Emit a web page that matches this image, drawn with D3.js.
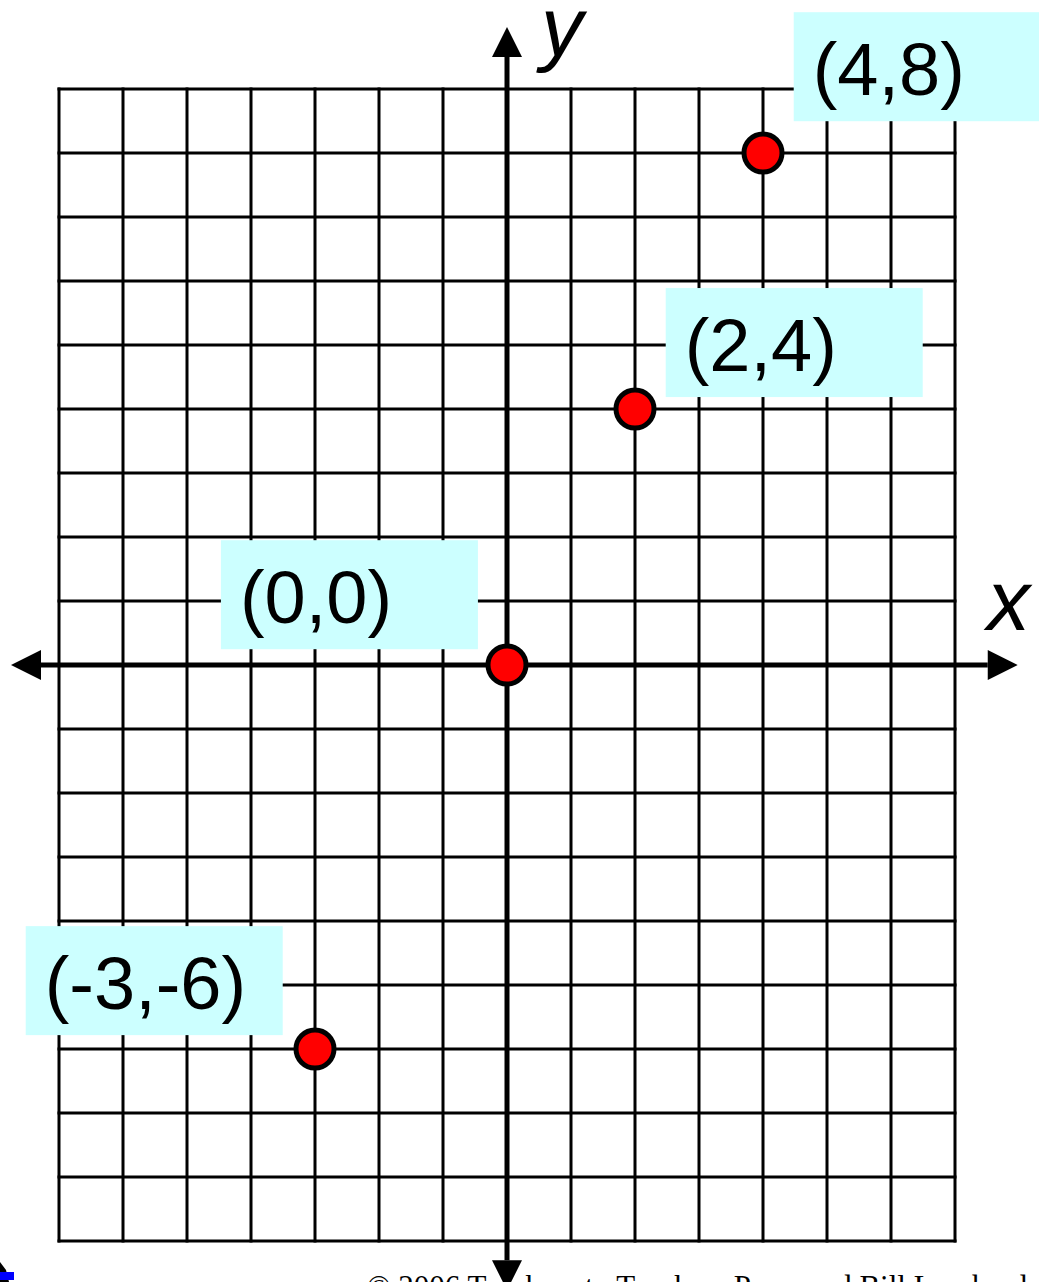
<!DOCTYPE html>
<html>
<head>
<meta charset="utf-8">
<script src="https://cdn.jsdelivr.net/npm/d3@7"></script>
<style>
  html, body { margin: 0; padding: 0; background: #fff; overflow: hidden; }
  svg { display: block; }
</style>
</head>
<body>
<svg id="chart" width="1039" height="1282"></svg>
<script>
// ---- data ----
const xTicks = [-7,-6,-5,-4,-3,-2,-1,0,1,2,3,4,5,6,7];
const yTicks = [-9,-8,-7,-6,-5,-4,-3,-2,-1,0,1,2,3,4,5,6,7,8,9];
const pointX = [0, 2, 4, -3];
const pointY = [0, 4, 8, -6];
const pointLabels = ["(0,0)", "(2,4)", "(4,8)", "(-3,-6)"];
// label box anchor (top-left corner) in data units
const labelBoxX = [-4.47, 2.48, 4.48, -7.52];
const labelBoxY = [1.95, 5.89, 10.20, -4.08];
const axisXExtent = [-7.75, 7.98];
const axisYExtent = [-9.77, 9.97];
const axisNames = ["x", "y"];
const copyright = "© 2006 Teachers to Teachers Press and Bill Lombard";

// ---- scales ----
const x = d3.scaleLinear().domain([-7, 7]).range([59, 955]);
const y = d3.scaleLinear().domain([-9, 9]).range([1241, 89]);

const svg = d3.select("#chart");

// grid
const grid = svg.append("g").attr("stroke", "#000").attr("stroke-width", 3).attr("stroke-linecap", "square");
grid.selectAll("line.v").data(xTicks).join("line")
  .attr("x1", d => x(d)).attr("x2", d => x(d))
  .attr("y1", y(9)).attr("y2", y(-9));
grid.selectAll("line.h").data(yTicks).join("line")
  .attr("y1", d => y(d)).attr("y2", d => y(d))
  .attr("x1", x(-7)).attr("x2", x(7));

// label boxes
const boxW = 257, boxH = 109;
const labels = svg.append("g");
pointLabels.forEach((t, i) => {
  const bx = x(labelBoxX[i]), by = y(labelBoxY[i]);
  labels.append("rect").attr("x", bx).attr("y", by).attr("width", boxW).attr("height", boxH)
    .attr("fill", "#ccffff");
  labels.append("text").attr("x", bx + 19).attr("y", by + 83)
    .attr("font-family", "Liberation Sans, Arial, sans-serif").attr("font-size", 74)
    .attr("fill", "#000").text(t);
});

// axes with arrows
const axes = svg.append("g");
const aw = 15, al = 30;
axes.append("line").attr("x1", x(axisXExtent[0]) + al).attr("x2", x(axisXExtent[1]) - al)
  .attr("y1", y(0)).attr("y2", y(0)).attr("stroke", "#000").attr("stroke-width", 5);
axes.append("line").attr("y1", y(axisYExtent[1]) + al).attr("y2", y(axisYExtent[0]) - al)
  .attr("x1", x(0)).attr("x2", x(0)).attr("stroke", "#000").attr("stroke-width", 5);
const arrow = (pts) => axes.append("path").attr("d", d3.line()(pts) + "Z").attr("fill", "#000");
const x0 = x(0), y0 = y(0);
const xl = x(axisXExtent[0]), xr = x(axisXExtent[1]);
const yt = y(axisYExtent[1]), yb = y(axisYExtent[0]);
arrow([[xl, y0], [xl + al, y0 - aw], [xl + al, y0 + aw]]);
arrow([[xr, y0], [xr - al, y0 - aw], [xr - al, y0 + aw]]);
arrow([[x0, yt], [x0 - aw, yt + al], [x0 + aw, yt + al]]);
arrow([[x0, yb], [x0 - aw, yb - al], [x0 + aw, yb - al]]);

// axis names
axes.append("text").attr("x", x(7.5)).attr("y", y(0.55))
  .attr("font-family", "Liberation Sans, Arial, sans-serif").attr("font-style", "italic")
  .attr("font-size", 86).attr("fill", "#000").text(axisNames[0]);
axes.append("text").attr("x", x(0.53)).attr("y", y(9.52))
  .attr("font-family", "Liberation Sans, Arial, sans-serif").attr("font-style", "italic")
  .attr("font-size", 84).attr("fill", "#000").text(axisNames[1]);

// points
svg.append("g").selectAll("circle").data(pointX).join("circle")
  .attr("cx", d => x(d)).attr("cy", (d, i) => y(pointY[i]))
  .attr("r", 19).attr("fill", "#ff0000").attr("stroke", "#000").attr("stroke-width", 5);

// copyright (clipped at the bottom edge, as in the reference)
svg.append("text").attr("x", 367).attr("y", 1297)
  .attr("font-family", "Liberation Serif, Times New Roman, serif").attr("font-size", 31)
  .attr("fill", "#000").text(copyright);

// small logo fragment bottom-left
svg.append("path").attr("d", "M0,1262 L6,1270 L9,1282 L0,1282 Z").attr("fill", "#000");
svg.append("rect").attr("x", 0).attr("y", 1272).attr("width", 14).attr("height", 8).attr("fill", "#0000ff");
</script>
</body>
</html>
